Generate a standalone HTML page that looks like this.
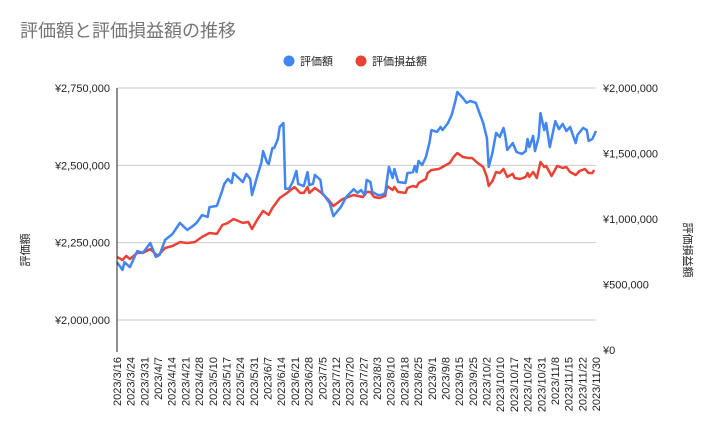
<!DOCTYPE html>
<html><head><meta charset="utf-8"><style>
body{margin:0;background:#fff;}
svg text{font-family:"Liberation Sans","Noto Sans CJK JP",sans-serif;}
</style></head><body>
<svg id="chart" width="712" height="439" xmlns="http://www.w3.org/2000/svg">
<rect width="712" height="439" fill="#fff"/>
<text x="20" y="37" font-size="18" fill="#757575">評価額と評価損益額の推移</text>
<g font-size="11" fill="#222">
<circle cx="289" cy="61" r="5.5" fill="#4285f4"/>
<text x="300" y="65">評価額</text>
<circle cx="361" cy="61" r="5.5" fill="#ea4335"/>
<text x="372" y="65">評価損益額</text>
</g>
<g id="grid"></g>
<g id="yl" font-size="11" fill="#222" text-anchor="end"></g>
<g id="yr" font-size="11" fill="#222"></g>
<g id="xl" font-size="11" fill="#222" text-anchor="end"></g>
<g id="series"></g>
<line x1="117" y1="88" x2="117" y2="352" stroke="#222" stroke-width="1"/>
<text font-size="11" fill="#222" text-anchor="middle" transform="translate(29,250) rotate(-90)">評価額</text>
<text font-size="11" fill="#222" text-anchor="middle" transform="translate(684,250) rotate(90)">評価損益額</text>
</svg>
<script>
const xLabels=["2023/3/16","2023/3/24","2023/3/31","2023/4/7","2023/4/14","2023/4/21","2023/4/28","2023/5/10","2023/5/17","2023/5/24","2023/5/31","2023/6/7","2023/6/14","2023/6/21","2023/6/28","2023/7/5","2023/7/12","2023/7/20","2023/7/27","2023/8/3","2023/8/10","2023/8/18","2023/8/25","2023/9/1","2023/9/8","2023/9/15","2023/9/25","2023/10/2","2023/10/10","2023/10/17","2023/10/24","2023/10/31","2023/11/8","2023/11/15","2023/11/22","2023/11/30"];
const leftTicks=[2000000,2250000,2500000,2750000];
const rightTicks=[0,500000,1000000,1500000,2000000];
const valueDays=[0,3,4,7,11,14,18,21,23,26,30,34,38,41,43,46,49,50,54,57,58,60,62,63,68,70,72,73,76,78,79,81,82,84,85,87,88,90,91,93,95,97,98,101,103,104,106,107,110,111,115,117,121,124,128,130,132,134,135,137,138,141,143,145,147,149,150,152,156,157,160,161,162,163,165,167,169,170,173,175,176,179,181,183,184,187,189,191,194,196,198,200,201,203,205,207,209,210,211,214,216,219,221,222,223,225,226,228,229,231,232,234,237,239,241,243,245,248,249,252,254,255,257,259];
const valueSeries=[2187,2162,2187,2171,2223,2217,2249,2204,2210,2259,2278,2314,2291,2304,2314,2339,2333,2365,2369,2420,2440,2456,2443,2475,2446,2472,2456,2404,2469,2508,2546,2511,2504,2556,2556,2585,2624,2637,2424,2424,2446,2482,2440,2433,2478,2436,2440,2469,2453,2411,2378,2336,2365,2398,2423,2411,2420,2404,2453,2446,2414,2404,2404,2411,2495,2459,2488,2446,2443,2475,2478,2498,2478,2514,2501,2527,2575,2614,2608,2624,2614,2637,2663,2708,2737,2718,2702,2708,2702,2669,2637,2588,2495,2540,2605,2592,2621,2592,2550,2572,2543,2537,2546,2585,2559,2595,2546,2592,2669,2614,2637,2559,2643,2617,2634,2611,2624,2572,2598,2621,2614,2579,2585,2611];
const plDays=[0,3,5,7,11,14,18,22,26,30,34,38,42,46,50,54,57,60,63,68,71,73,76,79,82,84,88,92,96,99,101,103,104,107,110,114,117,122,128,130,133,135,137,139,142,145,146,149,150,152,156,157,160,162,163,167,168,170,174,176,180,182,184,187,190,192,195,198,200,201,203,205,207,209,211,214,215,218,221,222,223,225,227,229,231,232,235,238,241,243,245,248,250,253,255,257,258];
const plSeries=[710,687,718,695,741,741,771,718,779,794,824,817,824,863,893,886,954,970,1000,970,977,924,1000,1061,1031,1084,1160,1199,1244,1199,1199,1244,1199,1237,1206,1153,1099,1153,1183,1176,1168,1206,1206,1168,1160,1176,1252,1221,1244,1206,1199,1237,1252,1244,1275,1305,1351,1374,1382,1397,1428,1473,1504,1473,1466,1466,1428,1397,1321,1252,1290,1359,1351,1382,1321,1344,1313,1305,1321,1351,1321,1359,1313,1435,1397,1405,1328,1405,1389,1397,1359,1336,1366,1382,1351,1351,1374];

const NS="http://www.w3.org/2000/svg";
const X0=117,X1=596,YT=88,YB=350,DAYMAX=259;
const xDay=d=>X0+d/DAYMAX*(X1-X0);
const yLeft=v=>320-(v-2000000)/750000*(320-YT);
const yRight=v=>YB-v/2000000*(YB-YT);
function mk(tag,attrs,parent){const e=document.createElementNS(NS,tag);for(const k in attrs)e.setAttribute(k,attrs[k]);parent.appendChild(e);return e;}
const fmt=v=>"¥"+v.toLocaleString("en-US");
const grid=document.getElementById('grid'),yl=document.getElementById('yl'),yr=document.getElementById('yr'),xl=document.getElementById('xl'),ser=document.getElementById('series');
leftTicks.forEach(v=>{
  const y=yLeft(v);
  const g=mk('line',{x1:X0,x2:X1,y1:y,y2:y,stroke:'#cccccc','stroke-width':1},grid);
  
  
  const t=mk('text',{x:110,y:y+4},yl);t.textContent=fmt(v);
  
  
});
rightTicks.forEach(v=>{
  const y=yRight(v);
  const t=mk('text',{x:603,y:y+4},yr);t.textContent=fmt(v);
  
  
});
xLabels.forEach((s,i)=>{
  const x=X0+i*(X1-X0)/(xLabels.length-1);
  const t=mk('text',{transform:`translate(${x+4},357) rotate(-90)`},xl);t.textContent=s;
  
  
});
function line(days,vals,fy,color,name){
  const d=days.map((dd,i)=>(i?'L':'M')+xDay(dd).toFixed(1)+','+fy(vals[i]*1000).toFixed(1)).join('');
  const p=mk('path',{d:d,fill:'none',stroke:color,'stroke-width':2.5,'stroke-linejoin':'round'},ser);
  
  
}
line(plDays,plSeries,yRight,'#ea4335','pl-line');
line(valueDays,valueSeries,yLeft,'#4285f4','value-line');
</script>
</body></html>
